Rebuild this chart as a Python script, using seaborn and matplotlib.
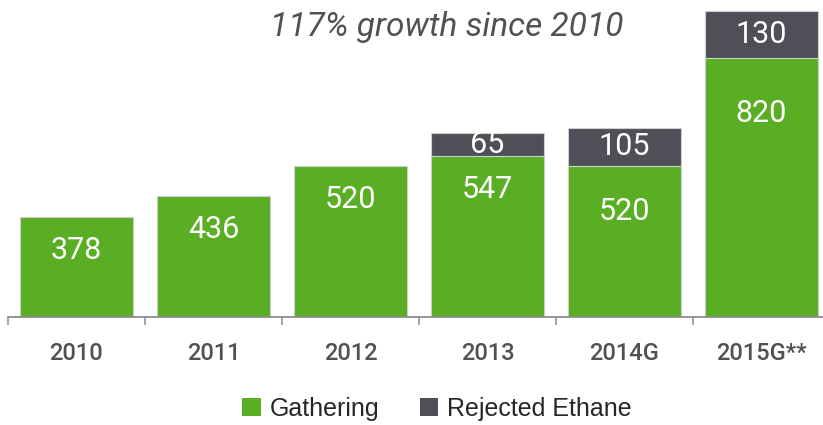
import matplotlib
matplotlib.use("Agg")
import matplotlib.pyplot as plt
import matplotlib.patches as mpatches
import numpy as np
import pandas as pd
import seaborn as sns

years = ["2010", "2011", "2012", "2013", "2014G", "2015G**"]
gathering = [378, 436, 520, 547, 520, 820]
ethane = [0, 0, 0, 65, 105, 130]
title_text = "117% growth since 2010"

GREEN = "#5aae24"
GRAY = "#4f5057"
TXT = "#505055"
# label offsets below bar top (points), purely for placement
green_label_offset = [24, 24, 24, 24, 33, 40]

df = pd.DataFrame({"year": years, "Gathering": gathering, "Ethane": ethane})
df["total"] = df["Gathering"] + df["Ethane"]

sns.set_style("white")
plt.rcParams["font.family"] = ["Roboto", "DejaVu Sans"]

fig = plt.figure(figsize=(8.23, 4.25), dpi=100)
ax = fig.add_axes([8 / 823, 108 / 425, 822 / 823, 317 / 425])

sns.barplot(data=df, x="year", y="total", color=GRAY, width=0.82,
            edgecolor="#cfcfcf", linewidth=0.8, ax=ax, saturation=1)
sns.barplot(data=df, x="year", y="Gathering", color=GREEN, width=0.82,
            edgecolor="#cfcfcf", linewidth=0.8, ax=ax, saturation=1)

ax.set_ylim(100, 980)
ax.set_xlim(-0.5, 5.5)
ax.set_xlabel("")
ax.set_ylabel("")
ax.set_yticks([])
for s in ["top", "right", "left"]:
    ax.spines[s].set_visible(False)
ax.spines["bottom"].set_color("#8c8c8c")
ax.spines["bottom"].set_linewidth(1.3)

ax.set_xticks(np.arange(len(years)))
ax.set_xticklabels(years, fontsize=17, color=TXT, fontweight="medium")
ax.tick_params(axis="x", which="major", length=0, pad=18)
ax.set_xticks(np.arange(len(years) + 1) - 0.5, minor=True)
ax.tick_params(axis="x", which="minor", length=6, width=1.1, color="#8c8c8c",
               direction="out", bottom=True)

for i, (g, e) in enumerate(zip(gathering, ethane)):
    ax.annotate(str(g), (i, g), xytext=(0, -green_label_offset[i]),
                textcoords="offset points", ha="center", va="center",
                color="white", fontsize=22)
    if e > 0:
        ax.text(i, g + e / 2, str(e), ha="center", va="center",
                color="white", fontsize=22)

fig.text(447 / 823, 1 - 27 / 425, title_text, ha="center", va="center",
         fontsize=24, style="italic", color=TXT)

handles = [mpatches.Patch(facecolor=GREEN, edgecolor="none", label="Gathering"),
           mpatches.Patch(facecolor=GRAY, edgecolor="none", label="Rejected Ethane")]
fig.legend(handles=handles, loc="center", bbox_to_anchor=(437 / 823, 1 - 409 / 425),
           ncol=2, frameon=False, handlelength=0.75, handleheight=0.75,
           handletextpad=0.35, columnspacing=1.6,
           prop={"family": ["Liberation Sans", "DejaVu Sans"], "size": 18})

fig.savefig("out.png", dpi=100)
